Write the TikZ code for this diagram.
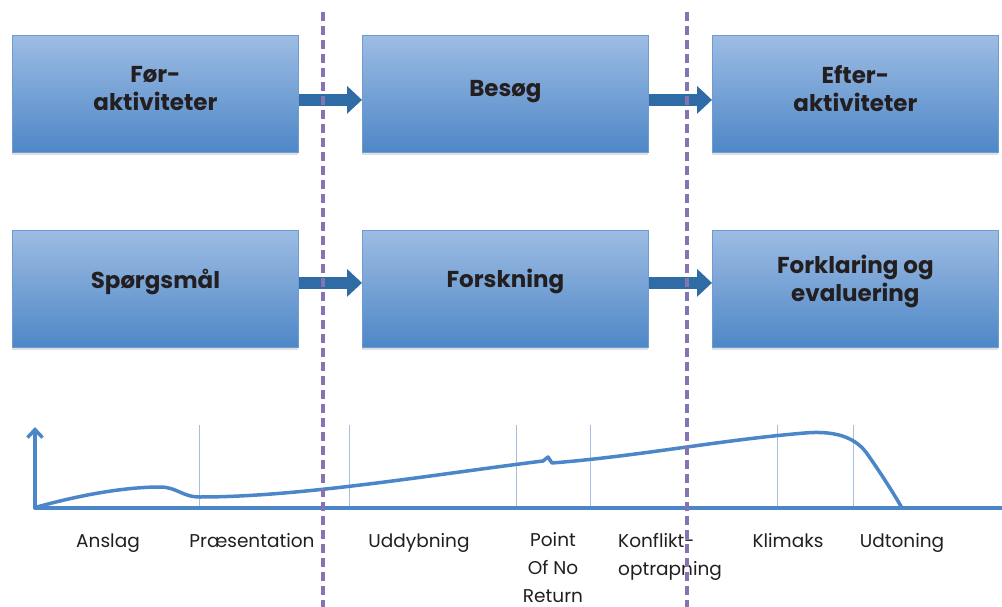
\documentclass[tikz,border=0pt]{standalone}
\usepackage{fontspec}
\setmainfont{Poppins}
\usetikzlibrary{arrows.meta,shadows}
\definecolor{boxtop}{HTML}{9DBCE3}
\definecolor{boxbot}{HTML}{4E87C7}
\definecolor{boxedge}{HTML}{6E9CD2}
\definecolor{arrowc}{HTML}{2F6CA6}
\definecolor{dashc}{HTML}{8674B2}
\definecolor{curvec}{HTML}{4A86C8}
\definecolor{tickc}{HTML}{A4BFE0}
\definecolor{txt}{HTML}{231F20}
\begin{document}
\begin{tikzpicture}[x=1pt,y=-1pt,
  box/.style={draw=boxedge, line width=0.8pt, top color=boxtop, bottom color=boxbot,
    minimum width=286pt, minimum height=117pt, inner sep=0pt, anchor=north west,
    drop shadow={opacity=0.25, shadow xshift=0pt, shadow yshift=-3pt}},
  boxtext/.style={font=\fontsize{23}{28}\selectfont\bfseries, text=txt, align=center, inner sep=0pt},
  bigarr/.style={draw=arrowc, line width=12pt, -{Triangle[length=15pt,width=27pt]}},
  vdash/.style={draw=dashc, line width=3.5pt, dash pattern=on 9pt off 5pt},
  curve/.style={draw=curvec, line width=3.5pt, line cap=round, line join=round},
  tick/.style={draw=tickc, line width=0.8pt},
  lab/.style={font=\fontsize{18.5}{28}\selectfont, text=txt, inner sep=0pt, anchor=base}
]
\useasboundingbox (0,0) rectangle (1002,607);
\fill[white] (0,0) rectangle (1002,607);

% boxes row 1
\node[box] (b1) at (12,35) {};
\node[box] (b2) at (362,35) {};
\node[box] (b3) at (712,35) {};
% boxes row 2
\node[box] (c1) at (12,230) {};
\node[box] (c2) at (362,230) {};
\node[box] (c3) at (712,230) {};

% texts
\node[boxtext] (t1) at ([yshift=5pt]b1.center) {Før-\\aktiviteter};
\node[boxtext] (t2) at ([yshift=2pt]b2.center) {Besøg};
\node[boxtext] (t3) at ([yshift=5pt]b3.center) {Efter-\\aktiviteter};
\node[boxtext] (u1) at ([yshift=7pt]c1.center) {Spørgsmål};
\node[boxtext] (u2) at ([yshift=7pt]c2.center) {Forskning};
\node[boxtext] (u3) at ([yshift=7pt]c3.center) {Forklaring og\\evaluering};

% arrows
\draw[bigarr] ([yshift=-6pt]b1.east) -- ([yshift=-6pt]b2.west);
\draw[bigarr] ([yshift=-6pt]b2.east) -- ([yshift=-6pt]b3.west);
\draw[bigarr] ([yshift=6pt]c1.east) -- ([yshift=6pt]c2.west);
\draw[bigarr] ([yshift=6pt]c2.east) -- ([yshift=6pt]c3.west);

% ticks
\foreach \x in {199,349,516,590,777,853} \draw[tick] (\x,425) -- (\x,508);

% curve
\draw[curve] (37,507) .. controls (80,495) and (125,487) .. (160,487)
  .. controls (177,487) and (182,497) .. (200,497)
  .. controls (300,497) and (430,475) .. (543,461)
  -- (548,457) -- (552,463)
  .. controls (640,456) and (720,440) .. (805,433)
  .. controls (840,430) and (858,440) .. (868,455)
  .. controls (882,475) and (894,494) .. (902,508);

% axes
\coordinate (o) at (35,508);
\coordinate (ytop) at (35,427);
\coordinate (xend) at (1002,508);
\draw[curve] (o) -- (xend);
\draw[curve, -{Straight Barb[length=8pt,width=15pt]}] (o) -- (ytop);

% labels
\node[lab] (l1) at (108,547) {Anslag};
\node[lab] (l2) at (252,547) {Præsentation};
\node[lab] (l3) at (419,547) {Uddybning};
\node[lab, align=center] (l4) at (553,602) {Point\\Of No\\Return};
\node[lab, align=left, anchor=base west] (l5) at (618,575) {Konflikt-\\optrapning};
\node[lab] (l6) at (788,547) {Klimaks};
\node[lab] (l7) at (902,547) {Udtoning};

% dashed separators
\draw[vdash] (323,12) -- (323,607);
\draw[vdash] (687,12) -- (687,607);
\end{tikzpicture}
\end{document}
